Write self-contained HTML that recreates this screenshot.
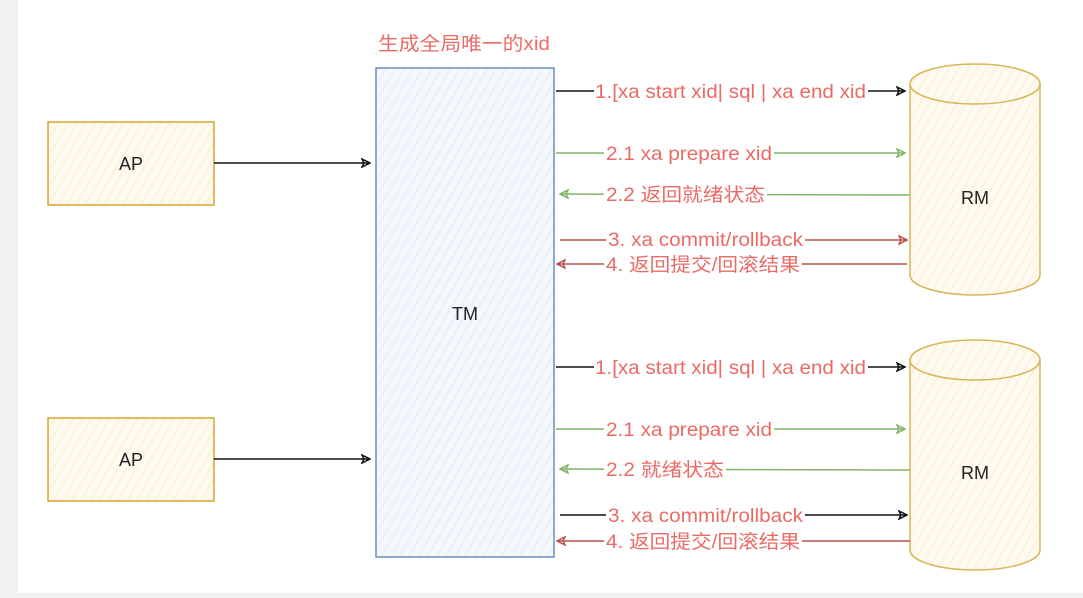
<!DOCTYPE html>
<html><head><meta charset="utf-8"><style>
html,body{margin:0;padding:0;background:#f1f1f1;}
svg{display:block;}
text{font-family:"Liberation Sans","Noto Sans CJK SC",sans-serif;}
</style></head><body>
<svg width="1083" height="598" viewBox="0 0 1083 598" xmlns="http://www.w3.org/2000/svg">
<defs>
<pattern id="hy" width="8" height="8" patternUnits="userSpaceOnUse" patternTransform="rotate(30)">
<rect width="8" height="8" fill="#fffaf0"/><line x1="0" y1="0" x2="0" y2="8" stroke="#f8e8c4" stroke-width="1.5"/></pattern>
<pattern id="hb" width="8" height="8" patternUnits="userSpaceOnUse" patternTransform="rotate(30)">
<rect width="8" height="8" fill="#f4f8fd"/><line x1="0" y1="0" x2="0" y2="8" stroke="#dbe7f6" stroke-width="1.5"/></pattern>
<marker id="ak" markerWidth="10" markerHeight="10" refX="9" refY="5" orient="auto" markerUnits="userSpaceOnUse"><path d="M1,1 L9,5 L1,9 L3,5 Z" fill="none" stroke="#111" stroke-width="1.5"/></marker>
<marker id="ag" markerWidth="10" markerHeight="10" refX="9" refY="5" orient="auto" markerUnits="userSpaceOnUse"><path d="M1,1 L9,5 L1,9 L3,5 Z" fill="none" stroke="#82b366" stroke-width="1.5"/></marker>
<marker id="ar" markerWidth="10" markerHeight="10" refX="9" refY="5" orient="auto" markerUnits="userSpaceOnUse"><path d="M1,1 L9,5 L1,9 L3,5 Z" fill="none" stroke="#b85450" stroke-width="1.5"/></marker>
</defs>
<rect x="18" y="0" width="1065" height="593" fill="#fff"/>
<rect x="48" y="122" width="166" height="83" fill="url(#hy)" stroke="#d6a52a" stroke-width="1.5"/>
<text x="131" y="170" font-size="18" text-anchor="middle" fill="#222">AP</text>
<rect x="48" y="418" width="166" height="83" fill="url(#hy)" stroke="#d6a52a" stroke-width="1.5"/>
<text x="131" y="466" font-size="18" text-anchor="middle" fill="#222">AP</text>
<line x1="214" y1="163" x2="370" y2="163" stroke="#111" stroke-width="1.5" marker-end="url(#ak)"/>
<line x1="214" y1="459" x2="370" y2="459" stroke="#111" stroke-width="1.5" marker-end="url(#ak)"/>
<rect x="376" y="68" width="178" height="489" fill="url(#hb)" stroke="#6c8ebf" stroke-width="1.5"/>
<text x="465" y="320" font-size="18" text-anchor="middle" fill="#222">TM</text>
<text x="378" y="50" font-size="19" fill="#ea6b66" textLength="172" lengthAdjust="spacingAndGlyphs">生成全局唯一的xid</text>
<g fill="url(#hy)" stroke="#d6b656" stroke-width="1.5">
<path d="M910,84 A65,20 0 0 1 1040,84 L1040,275 A65,20 0 0 1 910,275 Z"/>
<path d="M910,84 A65,20 0 0 0 1040,84" fill="none"/>
<path d="M910,360 A65,20 0 0 1 1040,360 L1040,550 A65,20 0 0 1 910,550 Z"/>
<path d="M910,360 A65,20 0 0 0 1040,360" fill="none"/>
</g>
<text x="975" y="204" font-size="18" text-anchor="middle" fill="#222">RM</text>
<text x="975" y="479" font-size="18" text-anchor="middle" fill="#222">RM</text>
<g stroke-width="1.5" fill="none">
<line x1="556" y1="91" x2="905" y2="91" stroke="#111" marker-end="url(#ak)"/>
<line x1="556" y1="153" x2="905" y2="153" stroke="#82b366" marker-end="url(#ag)"/>
<line x1="910" y1="195" x2="560" y2="194" stroke="#82b366" marker-end="url(#ag)"/>
<line x1="560" y1="240" x2="907" y2="240" stroke="#b85450" marker-end="url(#ar)"/>
<line x1="907" y1="264" x2="557" y2="264" stroke="#b85450" marker-end="url(#ar)"/>
<line x1="556" y1="367" x2="905" y2="367" stroke="#111" marker-end="url(#ak)"/>
<line x1="556" y1="429" x2="905" y2="429" stroke="#82b366" marker-end="url(#ag)"/>
<line x1="910" y1="470" x2="560" y2="469" stroke="#82b366" marker-end="url(#ag)"/>
<line x1="560" y1="515" x2="907" y2="515" stroke="#111" marker-end="url(#ak)"/>
<line x1="910" y1="541" x2="557" y2="541" stroke="#b85450" marker-end="url(#ar)"/>
</g>
<g font-size="19" fill="#ea6b66" lengthAdjust="spacingAndGlyphs">
<rect x="594" y="80" width="274" height="22" fill="#fff"/>
<text x="595" y="98" textLength="271" lengthAdjust="spacingAndGlyphs">1.[xa start xid| sql | xa end xid</text>
<rect x="604" y="142" width="170" height="22" fill="#fff"/>
<text x="606" y="160" textLength="166" lengthAdjust="spacingAndGlyphs">2.1 xa prepare xid</text>
<rect x="604" y="183" width="163" height="22" fill="#fff"/>
<text x="606" y="201" textLength="159" lengthAdjust="spacingAndGlyphs">2.2 返回就绪状态</text>
<rect x="606" y="229" width="199" height="22" fill="#fff"/>
<text x="608" y="246" textLength="195" lengthAdjust="spacingAndGlyphs">3. xa commit/rollback</text>
<rect x="604" y="253" width="198" height="22" fill="#fff"/>
<text x="606" y="271" textLength="194" lengthAdjust="spacingAndGlyphs">4. 返回提交/回滚结果</text>
<rect x="594" y="356" width="274" height="22" fill="#fff"/>
<text x="595" y="374" textLength="271" lengthAdjust="spacingAndGlyphs">1.[xa start xid| sql | xa end xid</text>
<rect x="604" y="418" width="170" height="22" fill="#fff"/>
<text x="606" y="436" textLength="166" lengthAdjust="spacingAndGlyphs">2.1 xa prepare xid</text>
<rect x="604" y="458" width="122" height="22" fill="#fff"/>
<text x="606" y="476" textLength="118" lengthAdjust="spacingAndGlyphs">2.2 就绪状态</text>
<rect x="606" y="504" width="199" height="22" fill="#fff"/>
<text x="608" y="522" textLength="195" lengthAdjust="spacingAndGlyphs">3. xa commit/rollback</text>
<rect x="604" y="530" width="198" height="22" fill="#fff"/>
<text x="606" y="548" textLength="194" lengthAdjust="spacingAndGlyphs">4. 返回提交/回滚结果</text>
</g>
</svg>
</body></html>
